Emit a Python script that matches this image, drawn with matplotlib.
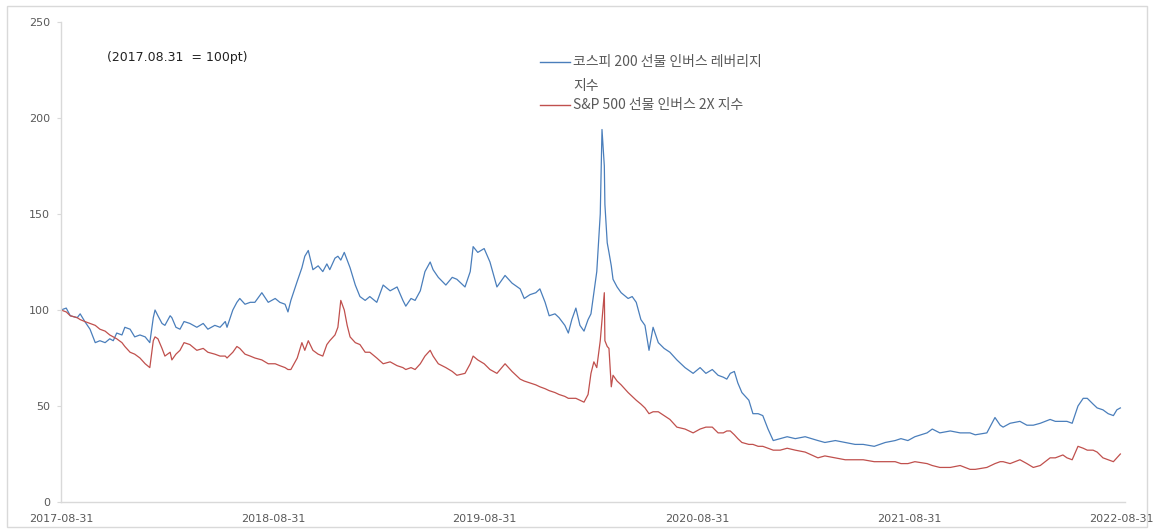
import numpy as np
import matplotlib
matplotlib.use("Agg")
import matplotlib.pyplot as plt
import pandas as pd
from matplotlib.lines import Line2D
from matplotlib.patches import Rectangle

plt.rcParams['font.family'] = ['Noto Sans CJK KR', 'DejaVu Sans']

# days since 2017-08-31
days = [0, 9, 16, 28, 33, 41, 50, 59, 67, 76, 84, 90, 96, 105, 110, 119, 127, 136, 145, 153,
        159, 162, 167, 174, 179, 188, 191, 198, 205, 212, 222, 234, 245, 253, 265, 274, 283, 286, 296, 303,
        308, 317, 326, 334, 346, 357, 369, 377, 386, 391, 396, 407, 415, 420, 426, 434, 443, 451, 458, 463,
        472, 477, 482, 488, 493, 498, 507, 515, 524, 532, 544, 555, 567, 579, 589, 594, 603, 610, 619, 627,
        636, 641, 650, 663, 674, 682, 696, 705, 710, 718, 729, 739, 751, 765, 777, 791, 798, 808, 818, 825,
        834, 841, 851, 858, 868, 874, 880, 887, 894, 901, 908, 913, 918, 923, 929, 932, 936, 937, 941, 944,
        948, 951, 958, 965, 977, 984, 991, 999, 1006, 1013, 1020, 1029, 1039, 1049, 1061, 1075, 1089, 1101, 1111, 1122,
        1132, 1141, 1147, 1153, 1160, 1166, 1173, 1185, 1192, 1201, 1209, 1218, 1227, 1239, 1251, 1265, 1282, 1304, 1316, 1334,
        1351, 1368, 1382, 1401, 1420, 1437, 1447, 1459, 1471, 1492, 1501, 1514, 1532, 1549, 1566, 1575, 1595, 1609, 1618, 1623,
        1635, 1652, 1664, 1675, 1687, 1704, 1713, 1726, 1733, 1742, 1752, 1761, 1768, 1778, 1785, 1795, 1804, 1813, 1819, 1825]

kospi_inv = [100, 101, 97, 96, 98, 94, 90, 83, 84, 83, 85, 84, 88, 87, 91, 90, 86, 87, 86, 83,
             96, 100, 97, 93, 92, 97, 96, 91, 90, 94, 93, 91, 93, 90, 92, 91, 94, 91, 100, 104,
             106, 103, 104, 104, 109, 104, 106, 104, 103, 99, 105, 115, 122, 128, 131, 121, 123, 120, 124, 121,
             127, 128, 126, 130, 126, 122, 113, 107, 105, 107, 104, 113, 110, 112, 105, 102, 106, 105, 110, 120,
             125, 121, 117, 113, 117, 116, 112, 120, 133, 130, 132, 125, 112, 118, 114, 111, 106, 108, 109, 111,
             104, 97, 98, 96, 92, 88, 95, 101, 92, 89, 95, 98, 109, 120, 150, 194, 175, 155, 135, 130,
             123, 116, 112, 109, 106, 107, 104, 95, 92, 79, 91, 83, 80, 78, 74, 70, 67, 70, 67, 69,
             66, 65, 64, 67, 68, 62, 57, 53, 46, 46, 45, 38, 32, 33, 34, 33, 34, 32, 31, 32,
             31, 30, 30, 29, 31, 32, 33, 32, 34, 36, 38, 36, 37, 36, 36, 35, 36, 44, 40, 39,
             41, 42, 40, 40, 41, 43, 42, 42, 42, 41, 50, 54, 54, 51, 49, 48, 46, 45, 48, 49]

sp_inv = [100, 99, 97, 96, 95, 94, 93, 92, 90, 89, 87, 86, 85, 83, 81, 78, 77, 75, 72, 70,
          84, 86, 85, 80, 76, 78, 74, 77, 79, 83, 82, 79, 80, 78, 77, 76, 76, 75, 78, 81,
          80, 77, 76, 75, 74, 72, 72, 71, 70, 69, 69, 75, 83, 79, 84, 79, 77, 76, 82, 84,
          87, 91, 105, 100, 92, 86, 83, 82, 78, 78, 75, 72, 73, 71, 70, 69, 70, 69, 72, 76,
          79, 76, 72, 70, 68, 66, 67, 72, 76, 74, 72, 69, 67, 72, 68, 64, 63, 62, 61, 60,
          59, 58, 57, 56, 55, 54, 54, 54, 53, 52, 56, 67, 73, 70, 84, 95, 109, 84, 81, 80,
          60, 66, 63, 61, 57, 55, 53, 51, 49, 46, 47, 47, 45, 43, 39, 38, 36, 38, 39, 39,
          36, 36, 37, 37, 35, 33, 31, 30, 30, 29, 29, 28, 27, 27, 28, 27, 26, 23, 24, 23,
          22, 22, 22, 21, 21, 21, 20, 20, 21, 20, 19, 18, 18, 19, 17, 17, 18, 20, 21, 21,
          20, 22, 20, 18, 19, 23, 23, 24.5, 23, 22, 29, 28, 27, 27, 26, 23, 22, 21, 23, 25]

tick_labels = ['2017-08-31', '2018-08-31', '2019-08-31', '2020-08-31', '2021-08-31', '2022-08-31']
legend_labels = ['코스피 200 선물 인버스 레버리지\n지수', 'S&P 500 선물 인버스 2X 지수']
note = '(2017.08.31  = 100pt)'

base = pd.Timestamp('2017-08-31')
dates = base + pd.to_timedelta(days, unit='D')
tick_dates = pd.to_datetime(tick_labels)

W, H = 1154, 530
fig = plt.figure(figsize=(W / 100, H / 100), dpi=100)
ax = fig.add_axes([61 / W, 1 - 502 / H, (1125 - 61) / W, (502 - 22) / H])

blue = '#4a7ebb'
red = '#c0504d'
ax.plot(dates, kospi_inv, color=blue, lw=0.9)
ax.plot(dates, sp_inv, color=red, lw=0.9)

ax.set_ylim(0, 250)
ax.set_yticks([0, 50, 100, 150, 200, 250])
ax.set_xlim(base, base + pd.Timedelta(days=1833))
ax.set_xticks(tick_dates)
ax.set_xticklabels(tick_labels)

for s in ['top', 'right']:
    ax.spines[s].set_visible(False)
for s in ['left', 'bottom']:
    ax.spines[s].set_color('#d9d9d9')
    ax.spines[s].set_linewidth(1.0)

ax.tick_params(axis='y', length=3, color='#d9d9d9', pad=5, labelsize=8, labelcolor='#595959')
ax.tick_params(axis='x', length=0, pad=9, labelsize=8, labelcolor='#595959')
for lab in ax.get_xticklabels() + ax.get_yticklabels():
    lab.set_family('DejaVu Sans')

# note in the upper left
fig.text(107 / W, 1 - 57 / H, note, fontsize=9, color='#222222', va='center', ha='left',
         family='DejaVu Sans')

# legend drawn by hand
fig.add_artist(Line2D([540 / W, 570 / W], [1 - 62 / H, 1 - 62 / H], color=blue, lw=1.0))
fig.add_artist(Line2D([540 / W, 570 / W], [1 - 105 / H, 1 - 105 / H], color=red, lw=1.0))
fig.text(573 / W, 1 - 62 / H, legend_labels[0].split('\n')[0], fontsize=10, color='#595959',
         va='center', ha='left')
fig.text(573 / W, 1 - 86 / H, legend_labels[0].split('\n')[1], fontsize=10, color='#595959',
         va='center', ha='left')
fig.text(573 / W, 1 - 105 / H, legend_labels[1], fontsize=10, color='#595959',
         va='center', ha='left')

# chart border
fig.add_artist(Rectangle((7 / W, 1 - 527 / H), (1147 - 7) / W, (527 - 6) / H,
                         transform=fig.transFigure, fill=False, edgecolor='#d9d9d9', lw=1.0))

fig.savefig('out.png', dpi=100)
